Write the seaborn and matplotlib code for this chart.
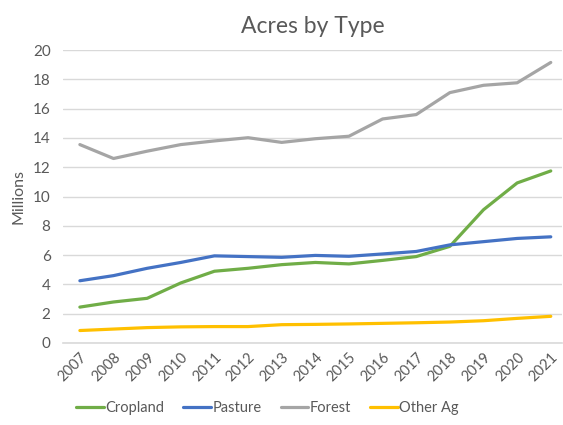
import pandas as pd
import numpy as np
import seaborn as sns
import matplotlib.pyplot as plt

years = list(range(2007, 2022))
cropland = [2.45, 2.8, 3.05, 4.1, 4.9, 5.1, 5.35, 5.5, 5.4, 5.64, 5.9, 6.6, 9.1, 10.93, 11.75]
pasture = [4.25, 4.6, 5.1, 5.5, 5.95, 5.9, 5.85, 5.98, 5.92, 6.08, 6.25, 6.7, 6.92, 7.14, 7.25]
forest = [13.55, 12.6, 13.1, 13.55, 13.8, 14.02, 13.7, 13.95, 14.12, 15.3, 15.6, 17.1, 17.6, 17.77, 19.16]
other_ag = [0.85, 0.95, 1.05, 1.1, 1.12, 1.12, 1.25, 1.27, 1.3, 1.34, 1.38, 1.43, 1.52, 1.68, 1.82]

series = ["Cropland", "Pasture", "Forest", "Other Ag"]
colors = ["#70AD47", "#4472C4", "#A5A5A5", "#FFC000"]

df = pd.DataFrame({"year": years, "Cropland": cropland, "Pasture": pasture,
                   "Forest": forest, "Other Ag": other_ag})
long_df = df.melt(id_vars="year", var_name="type", value_name="acres")

sns.set_theme(style="white")
plt.rcParams['font.family'] = ['Lato', 'DejaVu Sans']

fig = plt.figure(figsize=(5.63, 4.25), dpi=100)
ax = fig.add_axes([0.112, 0.193, 0.886, 0.689])

sns.lineplot(data=long_df, x="year", y="acres", hue="type", hue_order=series,
             palette=colors, linewidth=2.3, ax=ax)

ax.set_xlim(2006.5, 2021.33)
ax.set_ylim(0, 20)
ax.set_yticks(range(0, 21, 2))
ax.set_xticks(years)
ax.set_xticklabels([str(y) for y in years], rotation=45, ha="right",
                   rotation_mode="anchor", fontsize=10.5, color="#595959")
ax.tick_params(axis="y", labelsize=11, labelcolor="#595959", length=0, pad=9)
ax.tick_params(axis="x", length=0, pad=5)
ax.grid(axis="y", color="#D9D9D9", linewidth=1)
ax.set_axisbelow(True)
for s in ["top", "right", "left"]:
    ax.spines[s].set_visible(False)
ax.spines["bottom"].set_color("#D9D9D9")
ax.spines["bottom"].set_linewidth(1.2)

ax.set_xlabel("")
ax.set_ylabel("Millions", fontsize=11.5, color="#595959", labelpad=5)
ax.set_title("Acres by Type", fontsize=16.5, color="#595959", pad=12)

ax.legend(loc="center", bbox_to_anchor=(0.41, -0.222), ncol=4, frameon=False,
          fontsize=10.5, labelcolor="#595959", handlelength=1.9, handletextpad=0.1,
          columnspacing=1.3)

fig.savefig("out.png", dpi=100)
